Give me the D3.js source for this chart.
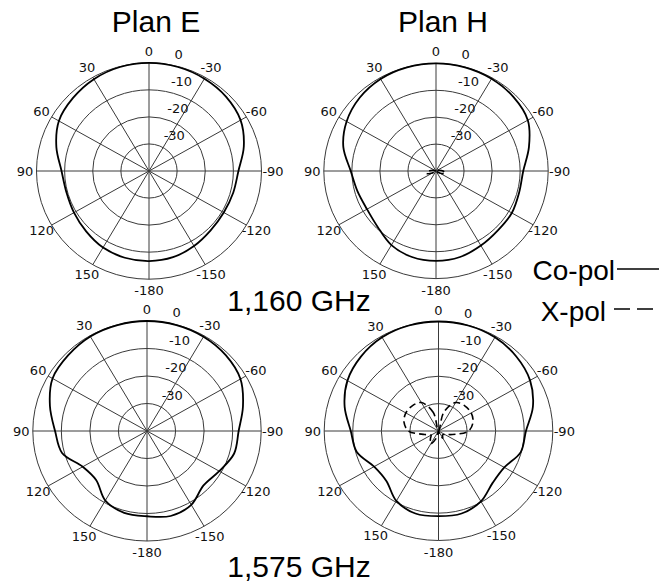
<!DOCTYPE html>
<html><head><meta charset="utf-8">
<script src="https://cdn.jsdelivr.net/npm/d3@7"></script>
<style>body{margin:0;background:#fff}</style>
</head><body>
<svg id="chart" width="659" height="582"></svg>
<script>
// ---- data (dB), angle in degrees, positive = counter-clockwise from top ----
const angleDeg = [0,15,30,45,60,75,90,105,120,135,150,165,180,-165,-150,-135,-120,-105,-90,-75,-60,-45,-30,-15];
const coE1160 = [0,-0.2,-0.8,-1.8,-3.0,-5.9,-8.9,-9.6,-9.2,-8.4,-7.3,-6.8,-6.7,-7.0,-8.0,-9.0,-9.3,-9.0,-8.2,-5.1,-2.4,-1.2,-0.6,-0.2];
const coH1160 = [0,-0.1,-0.5,-1.5,-3.2,-5.8,-9.6,-11.0,-11.6,-10.6,-8.2,-6.9,-6.6,-6.9,-8.0,-8.8,-8.8,-9.3,-8.9,-5.7,-2.2,-1.0,-0.4,-0.1];
const xH1160  = [-40,-40,-40,-40,-40,-39,-37.5,-36.5,-38.5,-40,-40,-40,-40,-40,-40,-40,-38.5,-36.5,-37.5,-39,-40,-40,-40,-40];
const coE1575 = [0,-0.1,-0.3,-1.0,-1.8,-4.8,-7.8,-9.2,-14.0,-14.8,-10.8,-9.2,-9.0,-8.0,-9.0,-12.0,-10.8,-8.4,-7.9,-5.2,-2.2,-1.0,-0.4,-0.1];
const coH1575 = [0,-0.1,-0.5,-1.6,-3.2,-6.0,-9.3,-10.4,-14.0,-14.2,-10.5,-8.8,-8.9,-8.8,-10.3,-13.2,-13.4,-10.2,-9.4,-5.8,-3.0,-1.5,-0.5,-0.1];
const xH1575  = [-40,-33,-28,-27,-26.8,-27.5,-29.5,-35,-37,-36,-34.5,-37.5,-40,-38.5,-37,-38,-37.5,-35,-29.5,-27.5,-26.8,-27,-28,-33];

const thetaTicks = [0,30,60,90,120,150,180,210,240,270,300,330];
const thetaLabels = ["0","30","60","90","120","150","-180","-150","-120","-90","-60","-30"];
const rTicks = [0,-10,-20,-30];
const rTickLabels = ["0","-10","-20","-30"];
const planTitles = ["Plan E","Plan H"];
const freqTitles = ["1,160 GHz","1,575 GHz"];
const legendLabels = ["Co-pol","X-pol"];

const svg = d3.select("#chart");
const rScale = d3.scaleLinear().domain([-40,0]).range([0,1]).clamp(true);
const rad = d => d*Math.PI/180;

const panels = [
  {cx:149, cy:171, rx:112.5, ry:108.2, co:coE1160, x:null},
  {cx:436, cy:171, rx:112.2, ry:107.6, co:coH1160, x:xH1160},
  {cx:147, cy:431, rx:114.2, ry:110.0, co:coE1575, x:null},
  {cx:438.5, cy:431, rx:114.3, ry:109.5, co:coH1575, x:xH1575}
];

const gridColor = "#3a3a3a";
panels.forEach(p => {
  const g = svg.append("g");
  const px = (th, v) => p.cx - p.rx*rScale(v)*Math.sin(rad(th));
  const py = (th, v) => p.cy - p.ry*rScale(v)*Math.cos(rad(th));
  g.selectAll("ellipse.ring").data(rTicks).join("ellipse")
    .attr("cx",p.cx).attr("cy",p.cy)
    .attr("rx",d=>p.rx*rScale(d)).attr("ry",d=>p.ry*rScale(d))
    .attr("fill","none").attr("stroke",gridColor).attr("stroke-width",1);
  g.selectAll("line.spoke").data(thetaTicks).join("line")
    .attr("x1",p.cx).attr("y1",p.cy)
    .attr("x2",d=>px(d,0)).attr("y2",d=>py(d,0))
    .attr("stroke",gridColor).attr("stroke-width",1);
  const pad = 11.5;
  g.selectAll("text.ang").data(thetaTicks).join("text")
    .attr("x",d=>p.cx - (p.rx+pad)*Math.sin(rad(d)))
    .attr("y",d=>p.cy - (p.ry+pad)*Math.cos(rad(d)))
    .attr("text-anchor","middle").attr("dominant-baseline","central")
    .attr("font-family","DejaVu Sans").attr("font-size",13).attr("fill","#111")
    .text((d,i)=>thetaLabels[i]);
  g.selectAll("text.rl").data(rTicks).join("text")
    .attr("x",d=>p.cx + 11 + 14.5*rScale(d))
    .attr("y",d=>p.cy - p.ry*rScale(d) - 8.5)
    .attr("text-anchor","start").attr("dominant-baseline","central")
    .attr("font-family","DejaVu Sans").attr("font-size",13).attr("fill","#111")
    .text((d,i)=>rTickLabels[i]);
  const line = d3.line().x(d=>px(d[0],d[1])).y(d=>py(d[0],d[1])).curve(d3.curveCatmullRomClosed.alpha(0.5));
  const coPts = angleDeg.map((a,i)=>[a,p.co[i]]);
  g.append("path").attr("d",line(coPts)).attr("fill","none").attr("stroke","#000").attr("stroke-width",1.8);
  if (p.x) {
    const xPts = angleDeg.map((a,i)=>[a,p.x[i]]);
    g.append("path").attr("d",line(xPts)).attr("fill","none").attr("stroke","#000")
      .attr("stroke-width",1.6).attr("stroke-dasharray","7,4");
  }
});

const tf = "Liberation Sans, Arial, sans-serif";
svg.selectAll("text.plan").data(planTitles).join("text")
  .attr("x",(d,i)=>[156,443][i]).attr("y",32)
  .attr("text-anchor","middle").attr("font-family",tf).attr("font-size",30).attr("fill","#000")
  .text(d=>d);
svg.selectAll("text.freq").data(freqTitles).join("text")
  .attr("x",299).attr("y",(d,i)=>[311,577][i])
  .attr("text-anchor","middle").attr("font-family",tf).attr("font-size",30).attr("fill","#000")
  .text(d=>d);
svg.selectAll("text.leg").data(legendLabels).join("text")
  .attr("x",(d,i)=>[615,606][i]).attr("y",(d,i)=>[280,321][i])
  .attr("text-anchor","end").attr("font-family",tf).attr("font-size",28).attr("fill","#000")
  .text(d=>d);
svg.append("line").attr("x1",617).attr("x2",659).attr("y1",269).attr("y2",269)
  .attr("stroke","#000").attr("stroke-width",1.5);
svg.append("line").attr("x1",614).attr("x2",659).attr("y1",309).attr("y2",309)
  .attr("stroke","#000").attr("stroke-width",1.5).attr("stroke-dasharray","16,7");
</script>
</body></html>
